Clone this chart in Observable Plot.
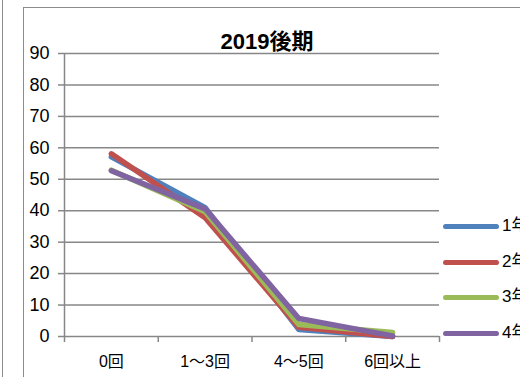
<!DOCTYPE html>
<html><head><meta charset="utf-8">
<script src="https://cdn.jsdelivr.net/npm/d3@7"></script>
<script src="https://cdn.jsdelivr.net/npm/@observablehq/plot@0.6"></script>
<style>
html,body{margin:0;padding:0;background:#fff;overflow:hidden;width:520px;height:377px;}
#wrap{position:relative;width:520px;height:377px;font-family:"Liberation Sans","Noto Sans CJK JP",sans-serif;}
#wrap svg{position:absolute;left:0;top:0;}
.frame{position:absolute;border:1.5px solid #8c8c8c;}
#title{position:absolute;left:0;width:534px;top:31px;text-align:center;font-weight:bold;font-size:22px;font-family:"Liberation Sans","Noto Sans CJK JP",sans-serif;color:#000;line-height:22px;}
.leg{position:absolute;left:443px;width:56px;height:5px;border-radius:3px;}
.legt{position:absolute;left:502px;font-size:17px;line-height:18px;white-space:nowrap;color:#000;font-family:"Liberation Sans","Noto Sans CJK JP",sans-serif;}
</style></head>
<body><div id="wrap">
<div class="frame" style="left:-10px;top:-10px;width:12px;height:400px;border-left:none;border-top:none;border-bottom:none;"></div>
<div class="frame" style="left:23px;top:7px;width:600px;height:400px;"></div>
</div>
<script>
const categories = ["0回", "1～3回", "4～5回", "6回以上"];
const seriesNames = ["1年生", "2年生", "3年生", "4年生"];
const grade1 = [57.1, 41.0, 2.2, 0];
const grade2 = [58.1, 37.8, 2.9, 0];
const grade3 = [52.9, 39.7, 3.8, 1.3];
const grade4 = [52.7, 40.6, 5.7, 0.2];
const colors = ["#4F81BD", "#C0504D", "#9BBB59", "#8064A2"];
const yTicks = [0, 10, 20, 30, 40, 50, 60, 70, 80, 90];
const title = "2019後期";

const allSeries = [grade1, grade2, grade3, grade4];
const rows = [];
allSeries.forEach((vals, s) => vals.forEach((v, i) => rows.push({series: seriesNames[s], idx: i + 0.5, value: v})));

const wrap = document.getElementById("wrap");
const chart = Plot.plot({
  width: 520, height: 377,
  marginLeft: 64, marginRight: 81, marginTop: 53, marginBottom: 41,
  style: {fontFamily: "'Liberation Sans', 'Noto Sans CJK JP', sans-serif", fontSize: "16px", background: "transparent", overflow: "visible"},
  x: {type: "linear", domain: [0, 4]},
  y: {domain: [0, 90]},
  color: {domain: seriesNames, range: colors},
  marks: [
    Plot.gridY(yTicks.filter(d => d > 0), {stroke: "#878787", strokeOpacity: 1, strokeWidth: 1.5}),
    Plot.ruleY([0], {stroke: "#878787", strokeWidth: 1.5}),
    Plot.ruleX([0], {stroke: "#878787", strokeWidth: 1.5}),
    Plot.axisY({ticks: yTicks, tickSize: 6, tickPadding: 9, stroke: "#878787", strokeWidth: 1.5, fill: "#000", label: null}),
    Plot.axisX({ticks: [0, 1, 2, 3, 4], tickSize: 6, tickFormat: () => "", stroke: "#878787", strokeWidth: 1.5, label: null}),
    Plot.axisX({ticks: categories.map((c, i) => i + 0.5), tickSize: 0, tickPadding: 19, tickFormat: d => categories[Math.round(d - 0.5)], fill: "#000", label: null}),
    Plot.line(rows, {x: "idx", y: "value", z: "series", stroke: "series", strokeWidth: 5.5, strokeLinejoin: "round", strokeLinecap: "round"})
  ]
});
chart.querySelectorAll("text").forEach(el => {
  const g = el.closest("g[aria-label]");
  const lab = g ? g.getAttribute("aria-label") : "";
  if (lab.startsWith("y-axis")) { el.style.fontSize = "18px"; }
  else if (lab.startsWith("x-axis")) { el.style.fontSize = "16px"; }
});
wrap.appendChild(chart);

const t = document.createElement("div");
t.id = "title"; t.textContent = title; wrap.appendChild(t);
const legY = [226, 262, 297, 333];
seriesNames.forEach((n, i) => {
  const l = document.createElement("div");
  l.className = "leg"; l.style.top = (legY[i] - 2.5) + "px"; l.style.background = colors[i];
  wrap.appendChild(l);
  const lt = document.createElement("div");
  lt.className = "legt"; lt.style.top = (legY[i] - 9) + "px"; lt.textContent = n;
  wrap.appendChild(lt);
});
</script>
</body></html>
